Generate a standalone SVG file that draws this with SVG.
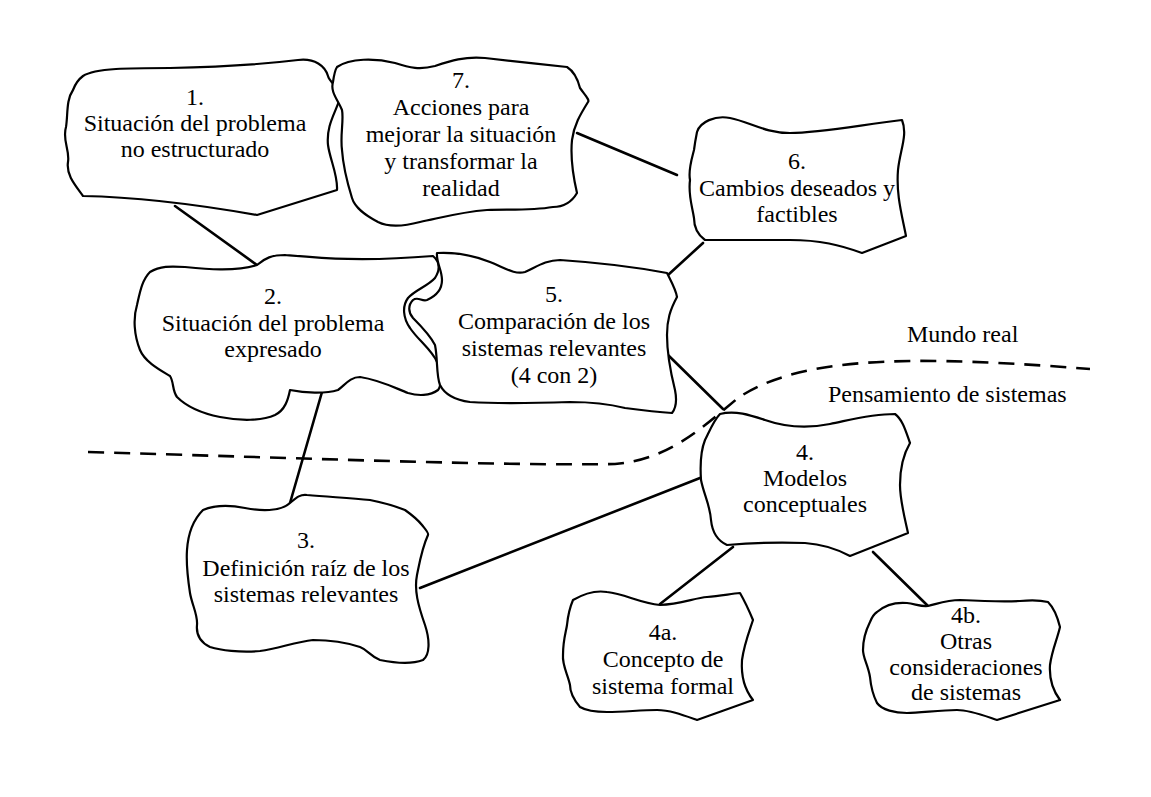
<svg xmlns="http://www.w3.org/2000/svg" width="1151" height="797" viewBox="0 0 1151 797">
<style>
.blob{fill:#fff;stroke:#000;stroke-width:2.2;stroke-linejoin:round}
.conn{stroke:#000;stroke-width:2.6;fill:none;stroke-linecap:round}
.dash{stroke:#000;stroke-width:2.6;fill:none;stroke-dasharray:16,10}
text{font-family:"Liberation Serif","Times New Roman",serif;font-size:24px;fill:#000;text-anchor:middle}
.lbl{text-anchor:start}
</style>
<rect width="1151" height="797" fill="#fff"/>
<path class="dash" d="M88,452 C300,458 500,466 615,464 C670,460 705,425 738,398 C785,366 860,360 940,361 C1000,362 1050,366 1090,369"/>
<g id="connectors">
<line class="conn" x1="175" y1="206" x2="257" y2="265"/>
<line class="conn" x1="577" y1="133" x2="677" y2="175"/>
<line class="conn" x1="668" y1="275" x2="703" y2="243"/>
<line class="conn" x1="668" y1="355" x2="723" y2="409"/>
<line class="conn" x1="322" y1="392" x2="290" y2="503"/>
<line class="conn" x1="420" y1="588" x2="700" y2="478"/>
<line class="conn" x1="733" y1="547" x2="660" y2="604"/>
<line class="conn" x1="873" y1="552" x2="928" y2="606"/>
</g>
<g id="node1">
<path class="blob" d="M83,76 C95,68 130,68 170,68 C220,67 265,64 298,60 C315,58 325,66 328,76 C330,84 342,88 340,98 C336,112 326,125 328,145 C330,160 338,175 337,190 L257,215 C200,205 140,197 83,196 C75,185 66,175 68,162 C70,150 62,140 66,127 C68,115 66,100 73,90 C76,82 79,79 83,76 Z"/>
<text x="195" y="105">1.</text>
<text x="195" y="131">Situación del problema</text>
<text x="195" y="157">no estructurado</text>
</g>
<g id="node7">
<path class="blob" d="M337,67 C350,58 375,58 395,63 C410,68 420,70 435,66 C450,61 465,56 485,58 C510,61 540,64 567,67 C575,72 578,80 580,88 C585,95 590,100 588,102 C580,115 574,125 572,140 C570,160 574,180 577,193 C570,205 560,207 553,207 C530,211 505,209 487,210 C460,212 440,218 420,222 C405,226 390,228 378,222 C365,215 355,208 352,198 C348,185 343,165 342,150 C340,135 344,120 342,110 C338,100 330,92 333,82 C334,75 335,70 337,67 Z"/>
<text x="461" y="88">7.</text>
<text x="461" y="115">Acciones para</text>
<text x="461" y="142">mejorar la situación</text>
<text x="461" y="169">y transformar la</text>
<text x="461" y="196">realidad</text>
</g>
<g id="node6">
<path class="blob" d="M697,132 C700,122 715,115 730,118 C750,122 765,133 790,133 C820,133 860,125 902,120 C908,135 900,150 898,170 C896,195 902,215 906,236 L862,253 C840,245 820,240 790,240 C760,240 730,240 705,240 C698,235 694,228 694,218 C692,205 688,195 690,180 C688,170 692,158 694,150 C695,142 696,137 697,132 Z"/>
<text x="797" y="169">6.</text>
<text x="797" y="196">Cambios deseados y</text>
<text x="797" y="222">factibles</text>
</g>
<g id="node2">
<path class="blob" d="M257,265 C265,258 272,255 285,255 C320,258 360,262 433,256 C440,262 440,270 435,278 C428,286 415,290 408,298 C402,306 403,318 410,328 C418,340 432,350 437,362 C441,372 442,385 438,390 C430,396 418,396 408,393 C395,388 380,380 360,377 C350,377 345,385 338,390 C325,394 305,393 290,390 C288,400 285,410 275,415 C262,421 240,421 220,417 C200,413 185,405 177,397 C172,390 174,382 170,376 C160,370 145,362 140,350 C134,335 133,318 137,305 C140,292 142,280 150,272 C160,266 170,266 185,267 C205,269 235,272 257,265 Z"/>
<text x="273" y="304">2.</text>
<text x="273" y="331">Situación del problema</text>
<text x="273" y="357">expresado</text>
</g>
<g id="node5">
<path class="blob" d="M437,253 C455,252 475,256 490,262 C505,268 515,275 525,272 C535,268 545,260 560,260 C590,262 630,266 667,273 C672,283 676,290 677,297 C670,310 667,320 667,335 C667,350 670,370 675,390 C677,400 676,408 672,413 C655,412 640,410 625,408 C605,403 590,402 570,402 C540,403 500,404 470,402 C455,400 445,395 440,385 C436,375 438,360 435,345 C430,335 420,325 413,318 C408,312 408,305 413,300 C418,296 422,302 427,300 C436,296 442,290 442,280 C442,270 436,262 437,253 Z"/>
<text x="554" y="302">5.</text>
<text x="554" y="329">Comparación de los</text>
<text x="554" y="356">sistemas relevantes</text>
<text x="554" y="383">(4 con 2)</text>
</g>
<g id="node4">
<path class="blob" d="M720,414 C735,410 750,415 765,420 C785,427 805,429 830,424 C850,420 870,414 895,414 C903,420 906,432 910,443 C903,455 900,470 900,485 C900,500 904,515 908,533 L850,556 C835,548 820,544 805,543 C780,542 750,543 727,545 C716,540 712,530 711,520 C710,505 704,495 701,480 C700,465 701,450 705,440 C710,430 714,420 720,414 Z"/>
<text x="805" y="460">4.</text>
<text x="805" y="486">Modelos</text>
<text x="805" y="512">conceptuales</text>
</g>
<g id="node3">
<path class="blob" d="M290,503 C296,498 300,494 307,495 C330,497 350,498 370,500 C385,503 395,506 405,510 C412,515 418,520 422,525 C426,530 429,533 428,535 C422,548 420,560 417,575 C414,590 418,605 425,625 C430,640 430,655 423,660 C410,665 395,663 380,660 C370,656 368,650 360,647 C345,642 330,640 313,640 C295,642 280,648 260,651 C240,653 220,650 210,647 C200,642 196,635 197,625 C198,615 192,605 190,593 C188,580 186,565 187,550 C188,535 193,520 203,510 C215,505 230,505 245,508 C260,511 280,512 290,503 Z"/>
<text x="306" y="548">3.</text>
<text x="306" y="576">Definición raíz de los</text>
<text x="306" y="602">sistemas relevantes</text>
</g>
<g id="node4a">
<path class="blob" d="M573,600 C585,593 595,590 607,592 C625,594 640,603 660,605 C680,604 695,598 707,597 C720,596 730,594 740,593 C744,600 748,608 753,620 C748,635 744,645 742,660 C741,675 745,690 753,700 L697,720 C683,715 670,710 657,710 C640,710 625,712 607,712 C595,712 585,710 580,707 C574,700 570,693 570,685 C568,675 562,665 563,655 C563,640 566,632 567,625 C568,615 570,607 573,600 Z"/>
<text x="663" y="640">4a.</text>
<text x="663" y="667">Concepto de</text>
<text x="663" y="694">sistema formal</text>
</g>
<g id="node4b">
<path class="blob" d="M877,612 C885,605 895,602 907,603 C915,604 922,607 928,606 C940,603 948,600 960,600 C980,601 1000,602 1020,601 C1030,600 1040,600 1048,602 C1053,607 1057,615 1060,627 C1057,640 1052,650 1050,665 C1049,680 1054,692 1060,700 L997,720 C985,716 970,710 957,710 C940,710 920,713 907,713 C895,713 882,710 877,703 C873,695 871,688 870,677 C868,665 863,658 863,650 C863,640 866,630 870,622 C872,617 874,614 877,612 Z"/>
<text x="966" y="623">4b.</text>
<text x="966" y="649">Otras</text>
<text x="966" y="675">consideraciones</text>
<text x="966" y="700">de sistemas</text>
</g>
<text class="lbl" x="907" y="342">Mundo real</text>
<text class="lbl" x="828" y="402">Pensamiento de sistemas</text>
</svg>
